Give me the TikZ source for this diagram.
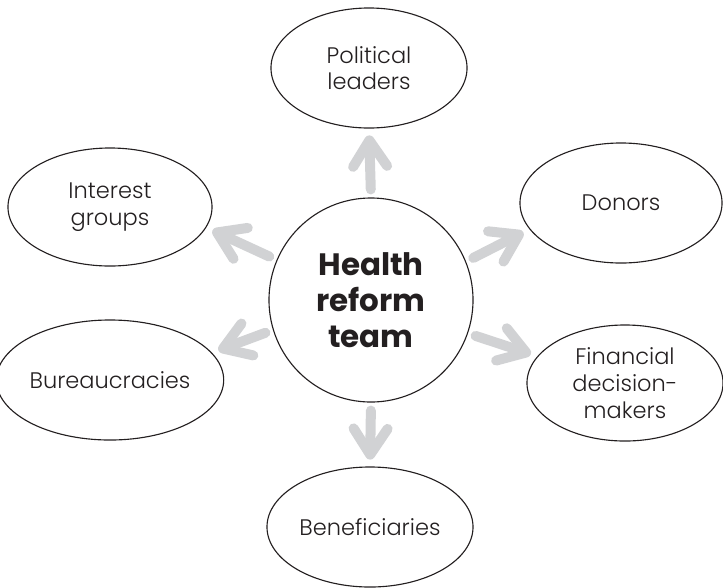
\documentclass[tikz,border=0pt]{standalone}
\usepackage{fontspec}
\setmainfont{Poppins}[UprightFont=* Light, BoldFont=* Bold]
\usetikzlibrary{shapes.geometric,arrows.meta}
\definecolor{spokegray}{HTML}{D1D2D4}
\definecolor{inkgray}{HTML}{231F20}

\begin{document}
\begin{tikzpicture}[x=0.025cm,y=-0.025cm,
    group/.style={ellipse, draw=inkgray, line width=0.8pt, inner sep=0pt,
      minimum width=5.1cm, minimum height=3cm, align=center, text=inkgray,
      font=\fontsize{16}{19}\selectfont},
    hub/.style={circle, draw=inkgray, line width=0.8pt, inner sep=0pt,
      minimum size=5.1cm, align=center, text=inkgray,
      font=\fontsize{22}{25.6}\selectfont\bfseries},
    spoke/.style={draw=spokegray, line width=0.25cm, line cap=round,
      shorten <=0.2cm, shorten >=0.17cm,
      -{Straight Barb[length=0.65cm, width=0.85cm, round]}}]
        \useasboundingbox (0,0) rectangle (723,587);
        \node[hub] (team) at (371,300) {Health\\reform\\team};
        \node[group, minimum width=4.9cm] (leaders) at (369,68) {Political\\leaders};
        \node[group, minimum width=5.05cm] (donors) at (621,203) {Donors};
        \node[group, minimum width=4.9cm, minimum height=2.9cm] (finance) at (625,383) {Financial\\decision-\\makers};
        \node[group, minimum width=5.15cm] (benef) at (370,527) {Beneficiaries};
        \node[group, minimum width=5.15cm] (bureau) at (110,380) {Bureaucracies};
        \node[group, minimum height=2.95cm] (interest) at (110,207) {Interest\\groups};
        \foreach \out/\to in {90/leaders.-90, 22/donors.196, -19/finance.163,
                              -90/benef.90, 197/bureau.15, 157/interest.-12} {
            \draw[spoke] (team.\out) -- (\to);
        }
    \end{tikzpicture}
\end{document}
